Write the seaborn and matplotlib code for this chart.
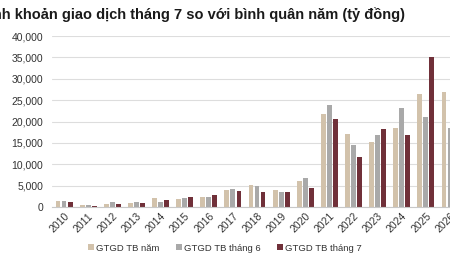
import numpy as np
import pandas as pd
import seaborn as sns
import matplotlib.pyplot as plt

years = [str(y) for y in range(2010, 2027)]
tb_nam = [1400, 550, 780, 1015, 2110, 1800, 2340, 4050, 5230, 3900, 6170,
          21640, 17110, 15160, 18590, 26480, 26800]
tb_thang6 = [1480, 550, 1090, 1170, 1250, 2190, 2340, 4140, 4840, 3590, 6720,
             23750, 14610, 16950, 23125, 20940, 18440]
tb_thang7 = [1170, 310, 620, 860, 1640, 2420, 2730, 3830, 3590, 3590, 4530,
             20470, 11640, 18360, 16950, 35160, np.nan]
series = ['GTGD TB năm', 'GTGD TB tháng 6', 'GTGD TB tháng 7']
colors = ['#D8C3A5', '#A9A9A9', '#7B2532']

df = pd.DataFrame({
    'nam': years * 3,
    'gtgd': tb_nam + tb_thang6 + tb_thang7,
    'loai': [s for s in series for _ in years],
})

sns.set_style('white')
plt.rcParams['font.family'] = ['Liberation Sans', 'DejaVu Sans']

fig = plt.figure(figsize=(4.5, 2.7), dpi=100)
ax = fig.add_axes([52 / 450, 1 - 207 / 270, 410 / 450, 171 / 270])

sns.barplot(data=df, x='nam', y='gtgd', hue='loai', hue_order=series,
            palette=colors, width=0.75, gap=0.2, linewidth=0, ax=ax)

ax.set_ylim(0, 40000)
ax.set_yticks(range(0, 40001, 5000))
ax.set_yticklabels([f'{v:,}' for v in range(0, 40001, 5000)], fontsize=7.5, color='#333333')
ax.set_xlim(-0.5, len(years) - 0.5)
ax.tick_params(axis='x', which='major', length=0, labelsize=7.5, labelcolor='#333333', pad=3)
ax.tick_params(axis='y', length=0, pad=6.5)
plt.setp(ax.get_xticklabels(), rotation=45, ha='right', rotation_mode='anchor')
ax.set_xticks(np.arange(-0.5, len(years), 1), minor=True)
ax.tick_params(axis='x', which='minor', length=3, color='#C8C8C8', width=0.8)
ax.grid(axis='y', color='#DDDDDD', linewidth=0.8)
ax.set_axisbelow(True)
for s in ['top', 'right', 'left']:
    ax.spines[s].set_visible(False)
ax.spines['bottom'].set_color('#C8C8C8')
ax.set_xlabel('')
ax.set_ylabel('')

h, l = ax.get_legend_handles_labels()
ax.legend(h, l, loc='center', bbox_to_anchor=(0.5, 0.081), bbox_transform=fig.transFigure,
          ncol=3, frameon=False, fontsize=6.8, handlelength=0.6, handleheight=0.6,
          handletextpad=0.2, columnspacing=1.8, labelcolor='#333333')

fig.text(405 / 450, 1 - 15 / 270, 'Thanh khoản giao dịch tháng 7 so với bình quân năm (tỷ đồng)',
         ha='right', va='center', fontsize=10.5, fontweight='bold', color='#1a1a1a')

fig.savefig('out.png', dpi=100)
